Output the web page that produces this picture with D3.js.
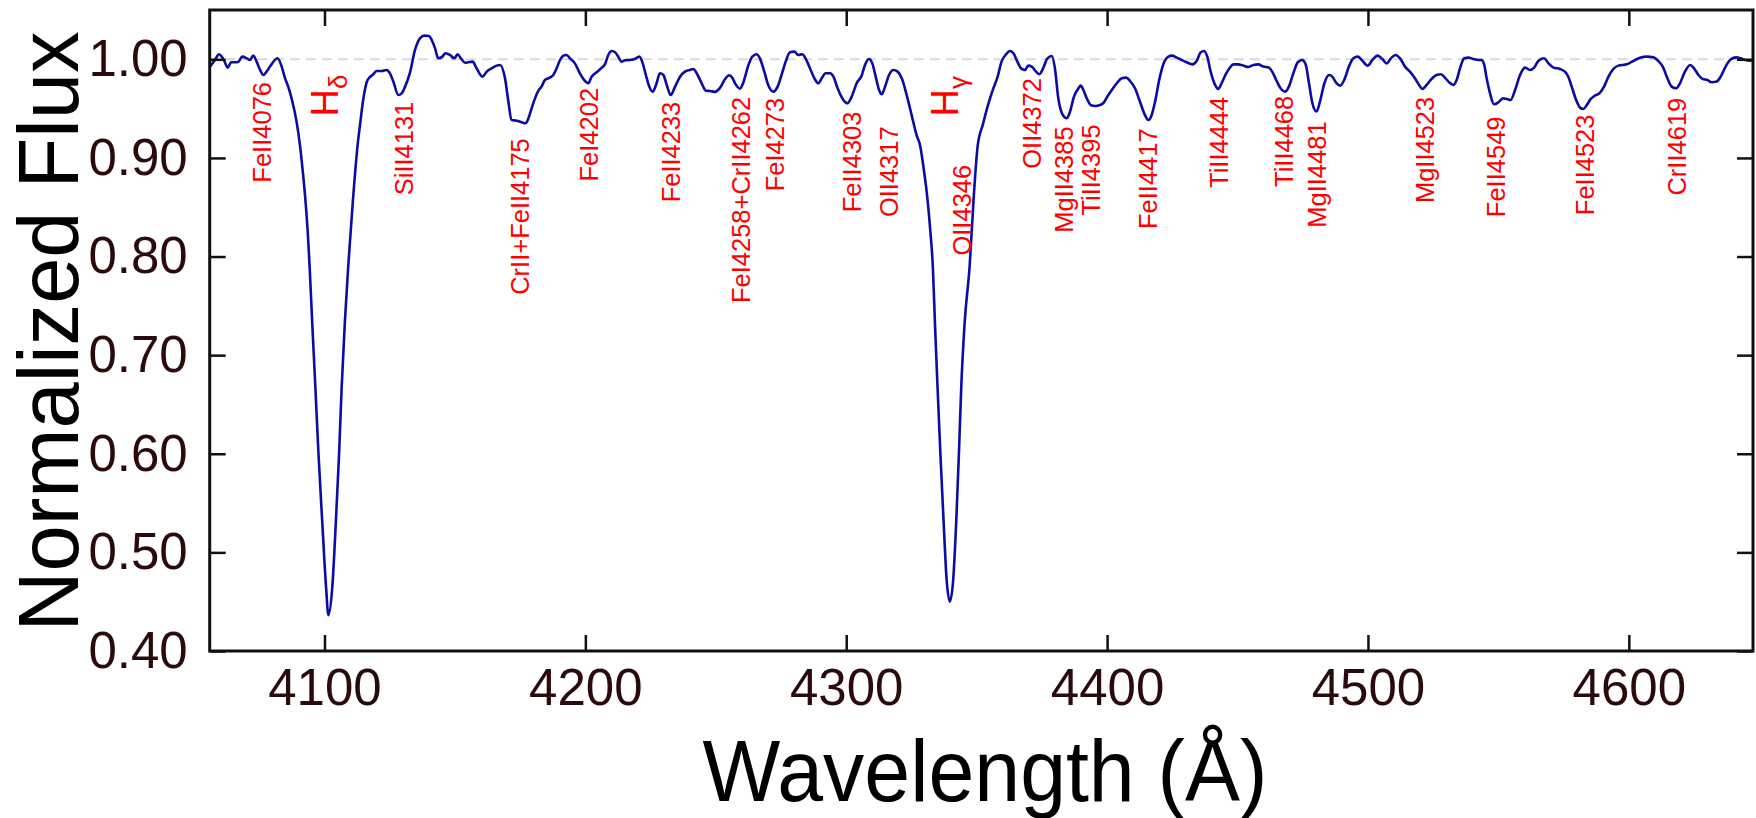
<!DOCTYPE html>
<html>
<head>
<meta charset="utf-8">
<script src="https://cdn.jsdelivr.net/npm/d3@7"></script>
<style>
  html, body { margin: 0; padding: 0; background: #ffffff; }
  svg { display: block; }
  text { font-family: "Liberation Sans", Arial, Helvetica, sans-serif; }
</style>
</head>
<body>
<svg id="chart" width="1756" height="818"></svg>
<script>
// ---------------- data ----------------
const wavelength = [
  4056.1,4058.0,4059.6,4060.6,4061.6,4062.9,4064.2,4065.7,4067.0,4068.5,4070.2,4071.4,4072.7,4074.0,4075.3,4076.6,4077.8,4079.7,
  4082.0,4083.6,4084.9,4086.1,4087.7,4089.3,4090.6,4091.5,4092.7,4093.6,4094.3,4095.3,4096.5,4097.7,4099.1,4100.6,4101.5,
  4103.0,4104.4,4105.6,4106.6,4107.8,4109.1,4110.9,4112.7,4113.6,4114.9,4116.2,4117.4,4118.7,4120.0,4121.9,4123.8,4125.1,
  4126.4,4128.3,4129.6,4130.9,4132.8,4134.7,4136.6,4138.3,4140.1,4141.1,4142.4,4143.6,4145.2,4146.4,4148.1,4149.8,4151.0,
  4152.3,4153.9,4155.1,4156.8,4158.3,4160.6,4162.2,4164.1,4166.0,4167.3,4169.2,4170.5,4171.7,4173.7,4175.6,4177.1,4178.1,
  4179.4,4180.7,4182.0,4183.2,4184.5,4186.4,4187.7,4189.0,4190.3,4191.6,4192.8,4194.1,4196.0,4197.9,4199.9,4201.1,4202.4,
  4204.3,4206.3,4207.5,4208.8,4210.1,4211.4,4212.6,4213.9,4215.2,4217.1,4219.0,4220.7,4222.0,4223.2,4224.5,4225.8,4227.1,
  4228.6,4229.9,4231.2,4232.7,4234.4,4236.3,4238.2,4240.1,4241.4,4242.9,4244.6,4246.2,4247.8,4249.7,4251.6,4253.5,4255.1,
  4256.3,4257.6,4259.3,4260.5,4262.5,4264.0,4265.7,4266.9,4268.6,4270.1,4272.1,4273.7,4275.2,4276.8,4278.4,4280.1,4281.6,
  4283.2,4284.4,4286.1,4287.8,4289.3,4290.6,4292.1,4293.8,4295.1,4296.7,4298.9,4300.5,4302.1,4304.0,4305.9,4307.2,4308.7,
  4310.0,4311.3,4312.6,4313.6,4314.9,4316.4,4318.1,4319.7,4321.3,4323.2,4325.1,4327.0,4328.3,4329.6,4331.2,4332.3,4333.2,
  4334.0,4335.0,4336.1,4337.3,4338.5,4339.7,4341.0,4342.2,4343.2,4344.1,4345.4,4347.3,4348.8,4350.4,4352.4,4354.4,4356.2,
  4357.9,4359.6,4361.3,4362.8,4364.1,4365.6,4367.3,4368.5,4369.8,4371.1,4372.8,4374.0,4375.6,4377.1,4378.8,4380.0,4381.3,
  4383.0,4384.5,4385.8,4387.3,4389.0,4389.9,4390.9,4392.2,4393.7,4395.4,4397.3,4398.8,4400.1,4401.8,4403.7,4405.6,4407.3,
  4408.8,4410.7,4412.6,4414.5,4415.8,4417.1,4418.4,4420.0,4421.6,4423.5,4424.8,4426.7,4428.6,4430.5,4432.8,4434.3,4435.9,
  4437.2,4438.4,4439.7,4441.4,4442.6,4443.9,4445.5,4447.0,4448.4,4450.3,4452.2,4454.1,4456.1,4458.0,4459.9,4461.8,4463.3,
  4465.0,4466.7,4468.2,4469.7,4471.4,4473.1,4474.8,4476.1,4477.4,4478.7,4480.3,4481.6,4483.3,4485.1,4486.3,4488.0,4489.3,
  4490.9,4492.7,4494.4,4496.1,4497.6,4499.9,4501.7,4503.7,4505.5,4507.2,4508.8,4510.6,4512.3,4514.2,4516.1,4518.0,4519.6,
  4520.8,4522.5,4524.4,4526.3,4528.0,4529.5,4531.1,4532.7,4534.0,4535.3,4536.9,4538.5,4540.4,4542.3,4543.5,4544.5,4545.5,
  4546.8,4548.3,4550.0,4551.7,4553.2,4554.7,4556.4,4558.3,4560.2,4562.1,4563.7,4565.3,4567.5,4569.2,4571.1,4573.6,4575.5,
  4576.8,4578.1,4579.8,4581.3,4582.6,4583.9,4585.4,4587.0,4588.7,4590.5,4592.2,4594.1,4596.0,4599.2,4601.7,4604.3,4606.9,
  4609.4,4611.3,4613.0,4614.8,4616.4,4618.1,4619.6,4621.5,4623.5,4625.0,4626.7,4628.3,4630.1,4631.8,4633.7,4635.2,4637.3,
  4639.1,4641.1,4642.9,4644.6,4646.5,4647.5
];
const flux = [
  0.9926,0.9993,1.0051,1.0027,0.9983,0.9915,0.9970,0.9970,0.9976,1.0027,1.0010,0.9993,1.0037,0.9976,0.9892,0.9841,0.9875,0.9949,
  1.0010,0.9926,0.9807,0.9723,0.9571,0.9368,0.913,0.891,0.857,0.824,0.790,0.733,0.668,0.600,0.533,0.465,0.4364,
  0.465,0.533,0.600,0.668,0.733,0.790,0.857,0.913,0.933,0.960,0.977,0.982,0.9848,0.9882,0.9882,0.9892,0.9858,
  0.9774,0.9638,0.9655,0.9723,0.9868,1.0095,1.0213,1.0240,1.0237,1.0196,1.0111,1.0010,1.0027,1.0061,1.0044,1.0010,1.0051,
  1.0010,0.9965,0.9970,0.9976,0.9909,0.9824,0.9875,0.9909,0.9936,0.9943,0.9807,0.9570,0.9384,0.9378,0.9361,0.9351,0.9395,
  0.9503,0.9604,0.9682,0.9723,0.9790,0.9814,0.9841,0.9909,0.9993,1.0037,1.0044,1.0010,0.9959,0.9858,0.9780,0.9757,0.9824,
  0.9868,0.9915,0.9949,1.0044,1.0084,1.0071,1.0027,0.9976,0.9990,0.9993,1.0003,1.0027,0.9959,0.9841,0.9723,0.9672,0.9740,
  0.9858,0.9841,0.9740,0.9638,0.9723,0.9824,0.9875,0.9892,0.9902,0.9848,0.9757,0.9682,0.9679,0.9670,0.9710,0.9797,0.9838,
  0.9814,0.9746,0.9703,0.9760,0.9940,1.0027,1.0051,1.0010,0.9875,0.9740,0.9672,0.9723,0.9841,0.9976,1.0071,1.0078,1.0044,
  1.0051,1.0010,0.9909,0.9807,0.9757,0.9807,0.9858,0.9858,0.9824,0.9706,0.9588,0.9554,0.9622,0.9757,0.9834,0.9943,1.0003,
  0.9959,0.9824,0.9689,0.9645,0.9723,0.9841,0.9892,0.9875,0.9807,0.9635,0.9432,0.9229,0.9128,0.891,0.857,0.824,0.790,
  0.733,0.668,0.600,0.533,0.472,0.450,0.472,0.533,0.600,0.668,0.733,0.7897,0.857,0.9125,0.934,0.954,0.969,
  0.9811,0.9980,1.0051,1.0084,1.0061,0.9976,0.9902,0.9892,0.9936,0.9926,0.9875,0.9848,0.9916,1.0010,1.0034,0.9909,0.9605,
  0.9436,0.9402,0.9469,0.9621,0.9706,0.9733,0.9689,0.9605,0.9537,0.9527,0.9537,0.9564,0.9622,0.9689,0.9757,0.9807,0.9814,
  0.9780,0.9706,0.9570,0.9436,0.9385,0.9436,0.9571,0.9794,0.9953,1.0027,1.0037,1.0017,0.9993,0.9970,0.9949,0.9983,1.0071,
  1.0084,1.0027,0.9875,0.9740,0.9699,0.9757,0.9850,0.9912,0.9949,0.9949,0.9936,0.9922,0.9943,0.9949,0.9926,0.9919,0.9875,
  0.9780,0.9699,0.9672,0.9723,0.9858,0.9970,0.9993,0.9949,0.9757,0.9554,0.9470,0.9571,0.9757,0.9841,0.9824,0.9757,0.9733,
  0.9790,0.9926,1.0010,1.0027,0.9993,0.9936,0.9993,1.0037,1.0003,0.9959,1.0010,1.0044,1.0010,0.9926,0.9875,0.9807,0.9740,
  0.9699,0.9740,0.9801,0.9841,0.9848,0.9814,0.9767,0.9740,0.9790,0.9909,1.0010,1.0017,1.0003,0.9993,0.9993,0.9950,0.9807,
  0.9655,0.9544,0.9564,0.9604,0.9598,0.9588,0.9689,0.9841,0.9916,0.9892,0.9916,0.9983,1.0010,0.9959,0.9916,0.9902,0.9875,
  0.9824,0.9723,0.9588,0.9510,0.9496,0.9537,0.9598,0.9632,0.9655,0.9723,0.9824,0.9902,0.9936,0.9949,0.9983,1.0017,1.0027,
  1.0020,0.9983,0.9926,0.9807,0.9723,0.9706,0.9757,0.9875,0.9943,0.9909,0.9841,0.9801,0.9790,0.9767,0.9774,0.9824,0.9936,
  1.0000,1.0020,1.0010,0.9993,0.9986,0.9993
];

// line identifications: label text, wavelength where it is drawn, flux level at the top of the label
const lineNames = ["FeII4076","SiII4131","CrII+FeII4175","FeI4202","FeII4233","FeI4258+CrII4262","FeI4273",
  "FeII4303","OII4317","OII4346","OII4372","MgII4385","TiII4395","FeII4417","TiII4444","TiII4468",
  "MgII4481","MgII4523","FeII4549","FeII4523","CrII4619"];
const lineWaves = [4076.0,4130.4,4174.8,4201.5,4232.9,4259.6,4272.8,4302.4,4316.5,4344.3,4371.1,4383.5,
  4393.8,4415.8,4443.0,4467.7,4480.4,4521.8,4549.1,4583.4,4618.3];
const lineTops = [0.977,0.957,0.920,0.971,0.957,0.962,0.961,0.947,0.932,0.893,0.981,0.932,
  0.934,0.930,0.962,0.963,0.937,0.962,0.942,0.944,0.961];

// Balmer lines
const balmerBase = ["H","H"];
const balmerSub = ["δ","γ"];
const balmerWaves = [4100.0,4337.5];
const balmerTop = 0.942;

const xTicks = [4100,4200,4300,4400,4500,4600];
const yTicks = [0.40,0.50,0.60,0.70,0.80,0.90,1.00];
const xDomain = [4056, 4647.6];
const yDomain = [0.40, 1.05];
const continuumLevel = 1.0;

// ---------------- layout ----------------
const svg = d3.select("#chart");
const L = 209.7, R = 1753, T = 10, B = 651;
const x = d3.scaleLinear().domain(xDomain).range([L, R]);
const y = d3.scaleLinear().domain(yDomain).range([B, T]);
const tickColor = "#111";
const labelColor = "#2a0a0a";

svg.append("rect").attr("width",1756).attr("height",818).attr("fill","#fff");

svg.append("defs").append("clipPath").attr("id","clip")
  .append("rect").attr("x",L).attr("y",T).attr("width",R-L).attr("height",B-T);

// continuum dashed line
svg.append("line")
  .attr("x1", L).attr("x2", R)
  .attr("y1", y(continuumLevel)).attr("y2", y(continuumLevel))
  .attr("stroke", "#dadada").attr("stroke-width", 2).attr("stroke-dasharray", "10,6");

// spectrum
const pts = wavelength.map((w,i)=>[w, flux[i]]);
const line = d3.line().x(d=>x(d[0])).y(d=>y(d[1])).curve(d3.curveMonotoneX);
svg.append("path").datum(pts)
  .attr("clip-path","url(#clip)")
  .attr("d", line)
  .attr("fill","none")
  .attr("stroke","#0c0ca2")
  .attr("stroke-width",2.6)
  .attr("stroke-linejoin","round");

// axes
function styleAxis(g){
  g.select(".domain").remove();
  g.selectAll(".tick line").attr("stroke", tickColor).attr("stroke-width", 2.5);
}
const gx = svg.append("g").attr("transform",`translate(0,${B})`)
  .call(d3.axisBottom(x).tickValues(xTicks).tickSizeInner(-16).tickSizeOuter(0).tickPadding(18).tickFormat(d3.format("d")));
styleAxis(gx);
gx.selectAll(".tick text").attr("font-size", 51).attr("fill", labelColor)
  .attr("font-family","Liberation Sans, Arial, sans-serif");

const gxt = svg.append("g").attr("transform",`translate(0,${T})`)
  .call(d3.axisTop(x).tickValues(xTicks).tickSizeInner(-16).tickSizeOuter(0).tickFormat(""));
styleAxis(gxt);

const gy = svg.append("g").attr("transform",`translate(${L},0)`)
  .call(d3.axisLeft(y).tickValues(yTicks).tickSizeInner(-16).tickSizeOuter(0).tickPadding(22).tickFormat(d3.format(".2f")));
styleAxis(gy);
gy.selectAll(".tick text").attr("font-size", 51).attr("fill", labelColor)
  .attr("font-family","Liberation Sans, Arial, sans-serif");

const gyr = svg.append("g").attr("transform",`translate(${R},0)`)
  .call(d3.axisRight(y).tickValues(yTicks).tickSizeInner(-16).tickSizeOuter(0).tickFormat(""));
styleAxis(gyr);

// frame
svg.append("rect").attr("x",L).attr("y",T).attr("width",R-L).attr("height",B-T)
  .attr("fill","none").attr("stroke",tickColor).attr("stroke-width",3);

// axis titles
svg.append("text")
  .attr("x", 985).attr("y", 801)
  .attr("text-anchor","middle")
  .attr("font-size", 88).attr("fill","#000")
  .attr("textLength", 565).attr("lengthAdjust","spacingAndGlyphs")
  .text("Wavelength (Å)");

svg.append("text")
  .attr("transform", `translate(78,331.5) rotate(-90)`)
  .attr("text-anchor","middle")
  .attr("font-size", 85).attr("fill","#000")
  .attr("textLength", 600).attr("lengthAdjust","spacingAndGlyphs")
  .text("Normalized Flux");

// line identification labels
const labG = svg.append("g");
lineNames.forEach((name,i)=>{
  labG.append("text")
    .attr("transform", `translate(${x(lineWaves[i])},${y(lineTops[i])}) rotate(-90)`)
    .attr("text-anchor","end")
    .attr("dy","0.35em")
    .attr("font-size", 25.5)
    .attr("fill","#ff0000")
    .text(name);
});

balmerBase.forEach((b,i)=>{
  const t = labG.append("text")
    .attr("transform", `translate(${x(balmerWaves[i])},${y(balmerTop)}) rotate(-90)`)
    .attr("text-anchor","start")
    .attr("dy","0.36em")
    .attr("font-size", 38)
    .attr("fill","#ff0000");
  t.append("tspan").text(b);
  t.append("tspan").attr("font-size", 26).attr("dy", 9).text(balmerSub[i]);
});
</script>
</body>
</html>
